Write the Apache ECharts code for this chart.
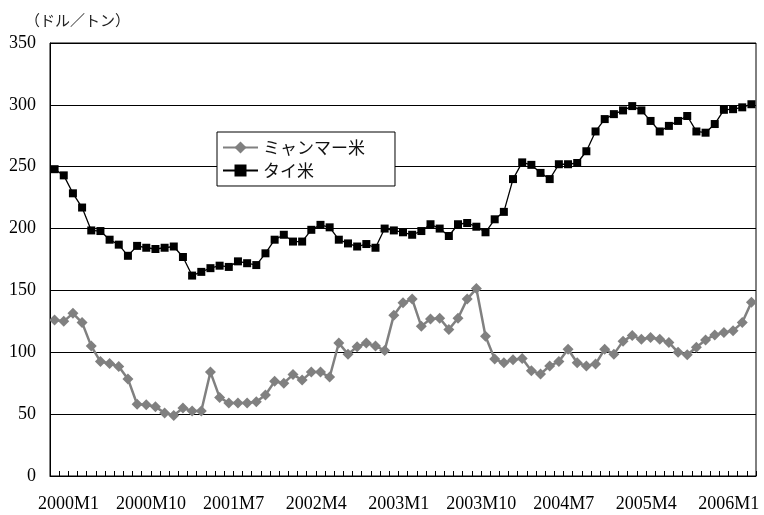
<!DOCTYPE html>
<html>
<head>
<meta charset="utf-8">
<script src="https://cdn.jsdelivr.net/npm/echarts@6/dist/echarts.min.js"></script>
<style>html,body{margin:0;padding:0;background:#fff;}#chart{width:764px;height:515px;}</style>
</head>
<body>
<div id="chart"></div>
<script>
const months = [
 '2000M1','2000M2','2000M3','2000M4','2000M5','2000M6','2000M7','2000M8','2000M9','2000M10','2000M11','2000M12',
 '2001M1','2001M2','2001M3','2001M4','2001M5','2001M6','2001M7','2001M8','2001M9','2001M10','2001M11','2001M12',
 '2002M1','2002M2','2002M3','2002M4','2002M5','2002M6','2002M7','2002M8','2002M9','2002M10','2002M11','2002M12',
 '2003M1','2003M2','2003M3','2003M4','2003M5','2003M6','2003M7','2003M8','2003M9','2003M10','2003M11','2003M12',
 '2004M1','2004M2','2004M3','2004M4','2004M5','2004M6','2004M7','2004M8','2004M9','2004M10','2004M11','2004M12',
 '2005M1','2005M2','2005M3','2005M4','2005M5','2005M6','2005M7','2005M8','2005M9','2005M10','2005M11','2005M12',
 '2006M1','2006M2','2006M3','2006M4','2006M5'
];
const myanmarRice = [
 126,125,131.5,124,105,92.5,91,88.5,78.5,58,57.5,56,
 51,49,55,52.5,52.5,84,63.5,59,59,59,60,65.5,
 76.5,75,82,77.5,84,84,80,107.5,98.5,104.5,107.5,105,
 101.5,130,140,143,121,127,127.5,118.5,127.5,143,151.5,113,
 94.5,91.5,94,95,85,82.5,89,92.5,102.5,91.5,89,90.5,
 102.5,98.5,109,113.5,110.5,112,110.5,108,100,98,104,110,
 114,116,117.5,124,140.5
];
const thaiRice = [
 248,243,228.5,217,198.5,198,191,187,178,186,184.5,183.5,
 184.5,185.5,177,162,165,168,170,169,173.5,172,170.5,180,
 191,195,189.5,189.5,199,203,201,191,188,185.5,187.5,184.5,
 200,198.5,197,195,198,203.5,200,194,203.5,204.5,201.5,197,
 207.5,213.5,240,253.5,251.5,245,240,252,252,253,262.5,278.5,
 288.5,292.5,295.5,299,295.5,287,278.5,283,287,291,278.5,277.5,
 284.5,296,296.5,298,300.5
];
const seriesNames = ['ミャンマー米','タイ米'];
const unitLabel = '（ドル／トン）';

const chart = echarts.init(document.getElementById('chart'));
chart.setOption({
  animation: false,
  backgroundColor: '#ffffff',
  title: {
    text: unitLabel, left: 20, top: 8,
    textStyle: {fontFamily: 'Noto Sans CJK JP', fontSize: 15, fontWeight: 'normal', color: '#222'}
  },
  grid: {left: 50, right: 8, top: 43, bottom: 39, show: true, borderColor: '#000', borderWidth: 1},
  legend: {
    orient: 'vertical', left: 217, top: 132,
    backgroundColor: '#fff', borderColor: '#000', borderWidth: 1,
    padding: [7, 30, 7, 5], itemGap: 6,
    itemWidth: 35, itemHeight: 15,
    textStyle: {fontFamily: 'Noto Sans CJK JP', fontSize: 17, color: '#111'},
    data: seriesNames
  },
  xAxis: {
    type: 'category', data: months, boundaryGap: true,
    axisLine: {lineStyle: {color: '#000', width: 1}},
    axisTick: {show: true, inside: true, length: 5, interval: 0, lineStyle: {color: '#000'}},
    axisLabel: {interval: 8, margin: 19, color: '#000', fontFamily: 'Liberation Serif', fontSize: 18, padding: [0,0,0,28]},
    splitLine: {show: false}
  },
  yAxis: {
    type: 'value', min: 0, max: 350, interval: 50,
    axisLine: {show: true, lineStyle: {color: '#000', width: 1}},
    axisTick: {show: true, inside: true, length: 5, lineStyle: {color: '#000'}},
    axisLabel: {margin: 14, color: '#000', fontFamily: 'Liberation Serif', fontSize: 18},
    splitLine: {show: true, lineStyle: {color: '#000', width: 1}}
  },
  series: [
    {
      name: seriesNames[0], type: 'line', data: myanmarRice,
      symbol: 'diamond', symbolSize: 11, showAllSymbol: true,
      lineStyle: {color: '#808080', width: 2.5},
      itemStyle: {color: '#808080'},
      z: 3
    },
    {
      name: seriesNames[1], type: 'line', data: thaiRice,
      symbol: 'rect', symbolSize: 8, showAllSymbol: true,
      lineStyle: {color: '#000', width: 1.3},
      itemStyle: {color: '#000'},
      z: 4
    }
  ]
});
</script>
</body>
</html>
